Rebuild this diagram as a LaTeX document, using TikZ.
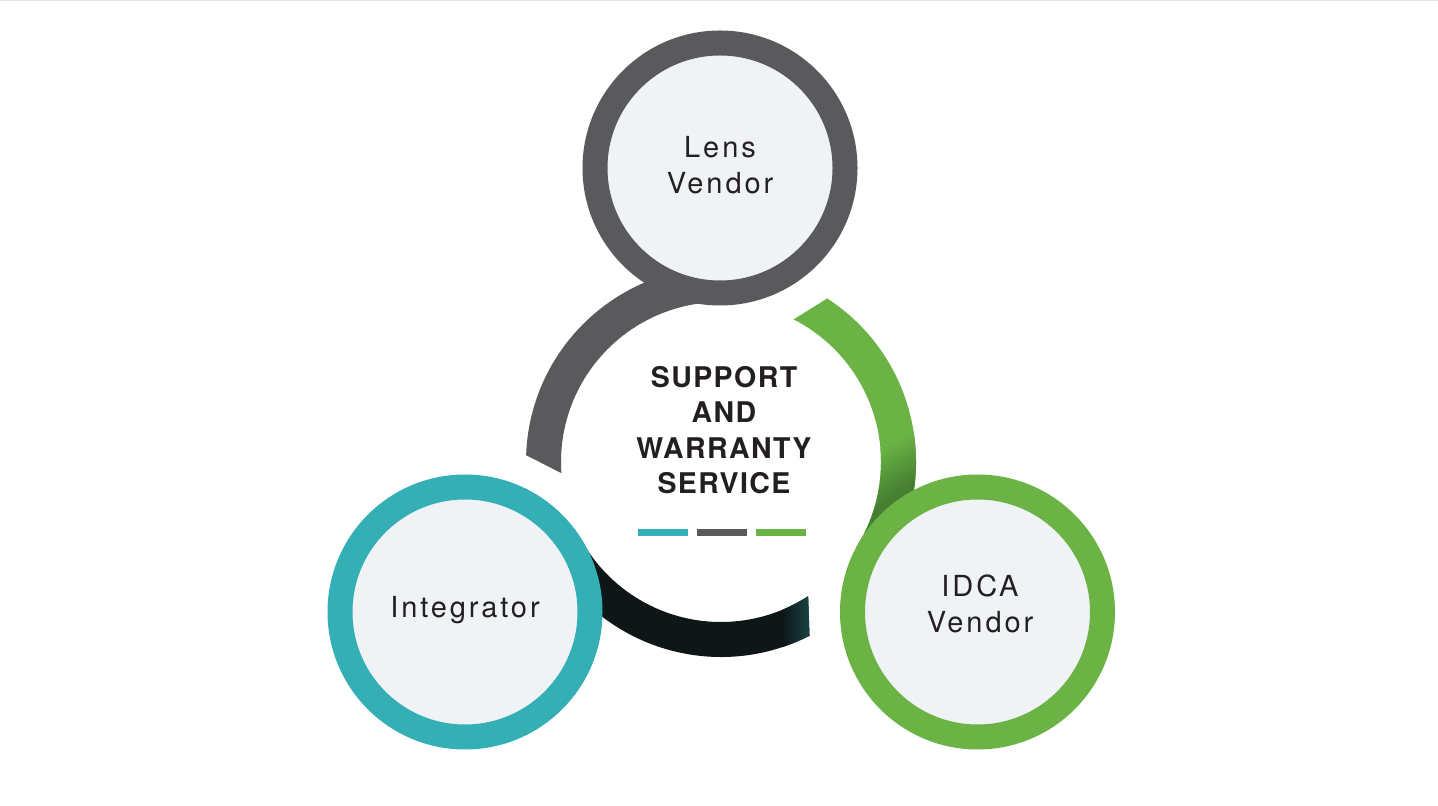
\documentclass[tikz,border=0pt]{standalone}
\usepackage{fontspec}
\setmainfont{TeX Gyre Heros}
\newfontfamily\labelfont[LetterSpace=10]{TeX Gyre Heros}
\newfontfamily\titlefont[LetterSpace=5]{TeX Gyre Heros}
\definecolor{ringgray}{HTML}{5A5A5D}
\definecolor{ringteal}{HTML}{34AFB6}
\definecolor{ringgreen}{HTML}{6AB344}
\definecolor{greenshadow}{HTML}{467F32}
\definecolor{ringdark}{HTML}{0E1618}
\definecolor{darktip}{HTML}{1C4B4D}
\definecolor{discfill}{HTML}{EFF3F6}
\definecolor{inktext}{HTML}{231F20}
\pgfdeclareradialshading{idcashadow}{\pgfpoint{0bp}{0bp}}{color(0bp)=(greenshadow); color(19bp)=(greenshadow); color(25bp)=(ringgreen); color(50bp)=(ringgreen)}

\begin{document}
\begin{tikzpicture}[x=1pt, y=1pt,
  partner/.style = {shape=circle, draw=#1, fill=discfill, line width=25pt, minimum size=250pt, inner sep=0pt},
  tag/.style = {align=center, text=inktext, font=\labelfont\fontsize{29}{36}\selectfont},
  hubtext/.style = {align=center, text=inktext, font=\titlefont\bfseries\fontsize{28.5}{35.3}\selectfont}
]
  \useasboundingbox (0,0) rectangle (1438,806);
  \fill[black!10] (0,804.5) rectangle (1438,806);
  \coordinate (hub) at (721,344);
  \coordinate (lensspot) at (720,638);
  \coordinate (integratorspot) at (465,194);
  \coordinate (idcaspot) at (977.5,194);
  \begin{scope}[shift={(hub)}]
    \fill[ringgray] (90:195) arc[start angle=90, end angle=178, radius=195pt] -- (184:160) arc[start angle=184, end angle=90, radius=160pt] -- cycle;
    \fill[ringgreen] (-32:195) arc[start angle=-32, end angle=57, radius=195pt] -- (63:160) arc[start angle=63, end angle=-32, radius=160pt] -- cycle;
    \begin{scope}
      \clip (-32:195) arc[start angle=-32, end angle=57, radius=195pt] -- (63:160) arc[start angle=63, end angle=-32, radius=160pt] -- cycle;
      \shade[shading=idcashadow] (idcaspot) circle (190pt);
    \end{scope}
    \fill[ringdark] (-148:195) arc[start angle=-148, end angle=-63, radius=195pt] -- (-57:160) arc[start angle=-57, end angle=-148, radius=160pt] -- cycle;
    \begin{scope}
      \clip (-148:195) arc[start angle=-148, end angle=-63, radius=195pt] -- (-57:160) arc[start angle=-57, end angle=-148, radius=160pt] -- cycle;
      \shade[left color=ringdark, right color=darktip] (62,-185) rectangle (92,-120);
    \end{scope}
  \end{scope}

  \node[partner=ringgray] (lens) at (lensspot) {};
  \node[partner=ringteal] (integrator) at (integratorspot) {};
  \node[partner=ringgreen] (idca) at (idcaspot) {};
  \node[tag] (lenstag) at (720,641) {Lens\\Vendor};
  \node[tag] (integratortag) at (465,196) {Integrator};
  \node[tag] (idcatag) at (980,202) {IDCA\\Vendor};

  \node[hubtext] (service) at (724,376) {SUPPORT\\AND\\WARRANTY\\SERVICE};
  \fill[ringteal] (638,270) rectangle (688,277);
  \fill[ringgray] (697,270) rectangle (747,277);
  \fill[ringgreen] (756,270) rectangle (806,277);
\end{tikzpicture}
\end{document}
